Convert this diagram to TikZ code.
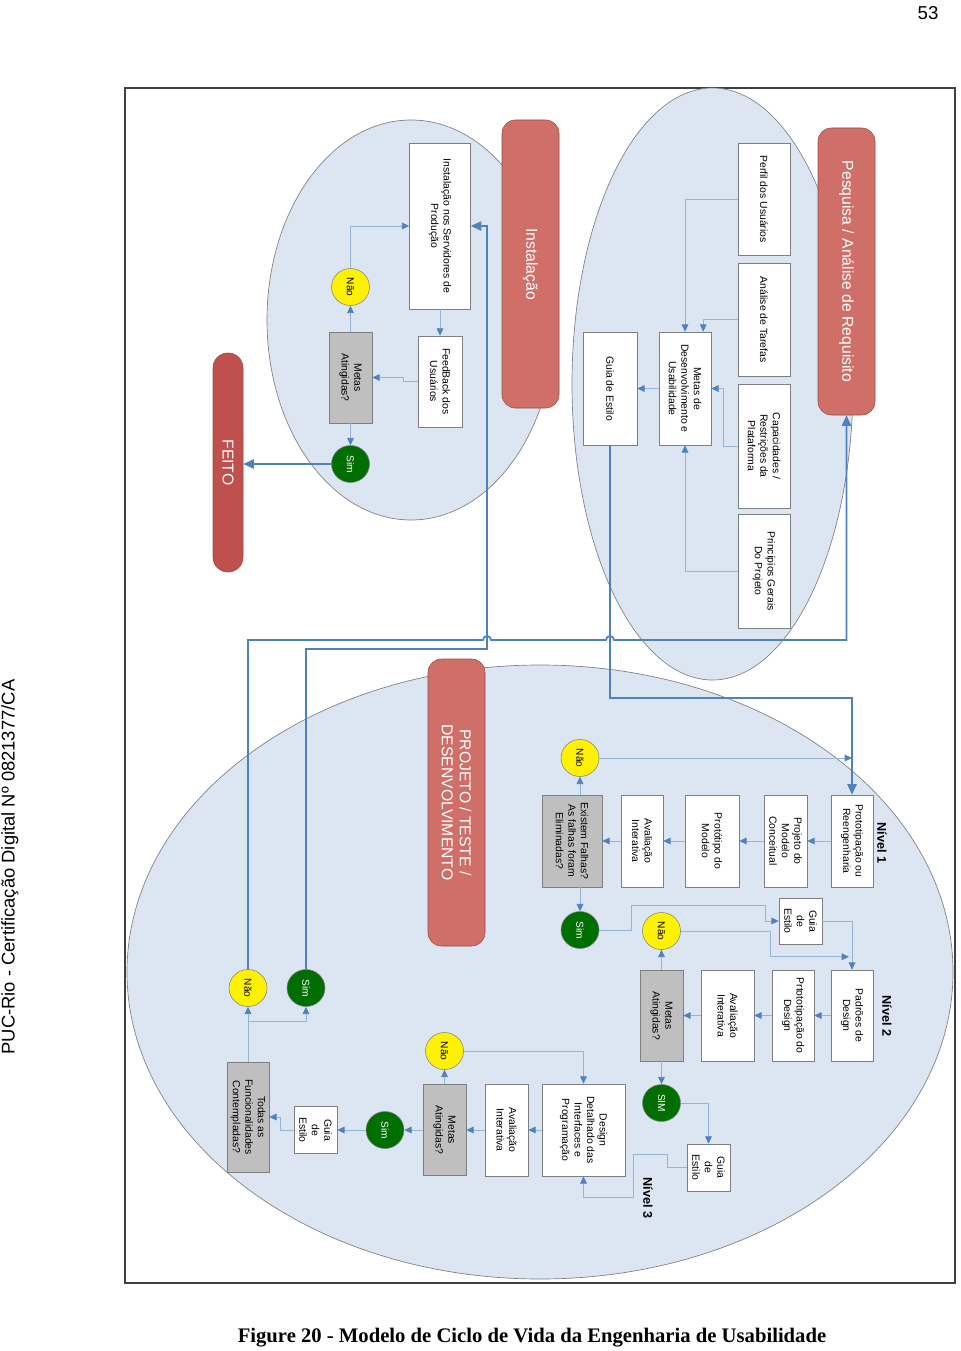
\documentclass[tikz,border=0pt]{standalone}
\usepackage{fontspec}
\setmainfont{Liberation Sans}
\newfontfamily\capfont{Liberation Serif}
\usetikzlibrary{arrows.meta,calc,shapes.geometric}
\definecolor{ellfill}{HTML}{DCE6F2}
\definecolor{linegray}{HTML}{7F7F7F}
\definecolor{redbox}{HTML}{CF6F68}
\definecolor{feitored}{HTML}{C0504D}
\definecolor{greybox}{HTML}{BFBFBF}
\definecolor{arrowblue}{HTML}{4F81BD}
\definecolor{thinblue}{HTML}{95B3D7}
\definecolor{simgreen}{HTML}{006E00}

\begin{document}
\begin{tikzpicture}[x=0.75pt,y=-0.75pt,
  box/.style={draw=linegray,fill=white,rotate=-90,align=center,inner sep=1pt,font=\fontsize{7.8}{9.4}\selectfont},
  ask/.style={box,fill=greybox},
  phase/.style={draw=redbox!70!black,fill=redbox,rounded corners=10pt,rotate=-90,align=center,text=white,font=\fontsize{11.8}{13.5}\selectfont},
  nao/.style={ellipse,draw=linegray,fill=yellow,rotate=-90,inner sep=0pt,minimum width=37*0.75pt,minimum height=38*0.75pt,font=\fontsize{7.6}{9}\selectfont},
  sim/.style={nao,fill=simgreen,text=white},
  wh/.style 2 args={minimum width=#2*0.75pt,minimum height=#1*0.75pt},
  lvl/.style={rotate=-90,font=\bfseries\fontsize{9.5}{11}\selectfont},
  flow/.style={draw=thinblue,line width=0.6pt,-{Triangle[length=5.5pt,width=5pt,color=arrowblue]}},
  link/.style={draw=arrowblue,line width=1.3pt,-{Triangle[length=8pt,width=7pt]}},
  ell/.style={draw=linegray,fill=ellfill,line width=0.5pt}]
\useasboundingbox (0,0) rectangle (960,1351);
\node[font=\fontsize{14}{16}\selectfont] (pg) at (928,13) {53};
\node[rotate=90,font=\fontsize{13.8}{16}\selectfont] (cert) at (10,867) {PUC-Rio - Certificação Digital Nº 0821377/CA};
\node[font=\capfont\bfseries\fontsize{15.5}{18}\selectfont] (caption) at (532,1338) {Figure 20 - Modelo de Ciclo de Vida da Engenharia de Usabilidade};
\draw[black!75,line width=1pt] (125,88) rectangle (955,1283);

\draw[ell] (712.5,384) ellipse [x radius=140.5,y radius=296];
\draw[ell] (411,320) ellipse [x radius=144,y radius=200];
\draw[ell] (540,972) ellipse [x radius=413,y radius=307];

\node[phase,wh={57}{287}] (pesq) at (846.5,271.5) {Pesquisa / Análise de Requisito};
\node[box,wh={52}{112}] (perfil) at (764,199) {Perfil dos Usuários};
\node[box,wh={52}{113}] (analise) at (764,319.5) {Análise de Tarefas};
\node[box,wh={52}{124}] (capac) at (764,446) {Capacidades /\\Restrições da\\Plataforma};
\node[box,wh={52}{114}] (princ) at (764,571) {Princípios Gerais\\Do Projeto};
\node[box,wh={52}{113}] (metasdu) at (685,388.5) {Metas de\\Desenvolvimento e\\Usabilidade};
\node[box,wh={54}{113}] (guia) at (610,388.5) {Guia de Estilo};

\node[phase,wh={57}{288}] (inst) at (530.5,264) {Instalação};
\node[box,wh={61}{166}] (serv) at (440,226) {Instalação nos Servidores de\\Produção};
\node[box,wh={44}{91}] (feedb) at (440,381.5) {FeedBack dos\\Usuários};
\node[ask,wh={43}{91}] (metasi) at (350.5,377.5) {Metas\\Atingidas?};
\node[nao] (naoi) at (350.5,287) {Não};
\node[sim] (simi) at (350.5,464) {Sim};
\node[phase,fill=feitored,rounded corners=11pt,wh={30}{219}] (feito) at (228,462.5) {FEITO};

\node[phase,wh={57}{287}] (projdev) at (456.5,802.5) {PROJETO / TESTE /\\DESENVOLVIMENTO};

\node[lvl] (niv1) at (882,843) {Nível 1};
\node[box,wh={42}{92}] (proto) at (852,841) {Prototipação ou\\Reengenharia};
\node[box,wh={43}{92}] (projmod) at (785.5,841) {Projeto do\\Modelo\\Conceitual};
\node[box,wh={54}{92}] (protmod) at (712,841) {Protótipo do\\Modelo};
\node[box,wh={42}{92}] (avalA) at (642,841) {Avaliação\\Interativa};
\node[ask,wh={60}{92}] (falhas) at (572,841) {Existem Falhas?\\As falhas foram\\Eliminadas?};
\node[nao] (naoA) at (580,758) {Não};
\node[sim] (simA) at (580,930) {Sim};
\node[box,wh={43}{46}] (guiaA) at (800.5,921) {Guia\\de\\Estilo};

\node[lvl] (niv2) at (887,1016) {Nível 2};
\node[box,wh={42}{91}] (padroes) at (852,1015.5) {Padrões de\\Design};
\node[box,wh={42}{91}] (protdes) at (793,1015.5) {Prtototipação do\\Design};
\node[box,wh={53}{91}] (avalB) at (727.5,1015.5) {Avaliação\\Interativa};
\node[ask,wh={43}{91}] (metasB) at (661.5,1015.5) {Metas\\Atingidas?};
\node[nao] (naoB) at (661.5,931) {Não};
\node[sim] (simB) at (661.5,1103) {SIM};
\node[box,wh={43}{47}] (guiaB) at (708.5,1167.5) {Guia\\de\\Estilo};

\node[lvl] (niv3) at (648,1198) {Nível 3};
\node[box,wh={83}{92}] (design) at (583.5,1130) {Design\\Detalhado das\\Interfaces e\\Programação};
\node[box,wh={43}{92}] (avalC) at (506.5,1130) {Avaliação\\Interativa};
\node[ask,wh={43}{91}] (metasC) at (444.5,1130) {Metas\\Atingidas?};
\node[nao] (naoC) at (444.5,1051) {Não};
\node[sim] (simC) at (385,1130) {Sim};
\node[box,wh={43}{47}] (guiaC) at (315.5,1130) {Guia\\de\\Estilo};
\node[ask,wh={42}{110}] (todas) at (248,1117) {Todas as\\Funcionalidades\\Contempladas?};
\node[nao] (naoD) at (248,988) {Não};
\node[sim] (simD) at (306,988) {Sim};

\coordinate (busA) at (0,640);
\coordinate (busB) at (0,649);
\coordinate (busC) at (0,698);
\coordinate (riser) at (487,0);

\draw[flow] (perfil.south) -| (metasdu.west);
\draw[flow] (analise.south) -| ($(metasdu.north west)+(-8,0)$);
\draw[flow] (capac.south) -- ++(-14,0) |- (metasdu.north);
\draw[flow] (princ.south) -| (metasdu.east);
\draw[flow] (metasdu.south) -- (guia.north);
\draw[link] (guia.east) -- (guia.east |- busC) -| (proto.west);

\draw[flow] (serv.east) -- (feedb.west);
\draw[flow] (feedb.south) -- ++(-14,0) |- (metasi.north);
\draw[flow] (metasi.west) -- (naoi);
\draw[flow] (naoi.west) |- (serv.south);
\draw[flow] (metasi.east) -- (simi);
\draw[link] (simi.south) -- (simi.south -| feito.north);
\draw[link] (simD.west) |- (riser |- busB) |- (serv.north);
\draw[link] (naoD.west) |- ($(riser |- busA)+(-4,0)$) arc[start angle=180,end angle=360,radius=4]
  -- ($(guia.east |- busA)+(-4,0)$) arc[start angle=180,end angle=360,radius=4] -| (pesq.east);

\draw[flow] (proto.south) -- (projmod.north);
\draw[flow] (projmod.south) -- (protmod.north);
\draw[flow] (protmod.south) -- (avalA.north);
\draw[flow] (avalA.south) -- (falhas.north);
\draw[flow] (falhas.west -| naoA) -- (naoA);
\draw[flow] (falhas.east -| simA) -- (simA);
\draw[flow] (naoA.north) -- (naoA.north -| proto.west);
\draw[flow] (simA.north) -- ++(32,0) -- ++(0,-25) -| ($(guiaA.south)+(-13,0)$) -- (guiaA.south);
\draw[flow] (guiaA.north) -| (padroes.west);
\draw[flow] (naoB.north) -| ($(padroes.west)+(-82,-13)$) -- ($(padroes.west)+(-3,-13)$);

\draw[flow] (padroes.south) -- (protdes.north);
\draw[flow] (protdes.south) -- (avalB.north);
\draw[flow] (avalB.south) -- (metasB.north);
\draw[flow] (metasB.west) -- (naoB);
\draw[flow] (metasB.east) -- (simB);
\draw[flow] (simB.north) -| (guiaB.west);
\draw[flow] (guiaB.south) -- ++(-19,0) -- ++(0,-13) -- ++(-34,0) -- ++(0,43) -| (design.east);

\draw[flow] (design.south) -- (avalC.north);
\draw[flow] (avalC.south) -- (metasC.north);
\draw[flow] (metasC.west) -- (naoC);
\draw[flow] (naoC.north) -| (design.west);
\draw[flow] (metasC.south) -- (simC);
\draw[flow] (simC.south) -- (guiaC.north);
\draw[flow] (guiaC.south) -- ++(-13,0) |- (todas.north);
\draw[flow] (todas.west) -- (naoD);
\draw[flow] ($(todas.west)+(0,-40)$) -| (simD.east);
\end{tikzpicture}
\end{document}
